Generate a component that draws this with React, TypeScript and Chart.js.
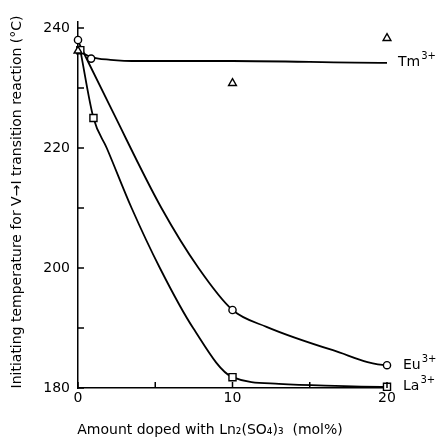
import React, { useEffect, useRef } from 'react';
import { Chart, registerables } from 'chart.js';
Chart.register(...registerables);

// Measured points
const tmX = [0, 10, 20];
const tmValues = [236.2, 230.8, 238.3];
const euX = [0, 0.85, 10, 20];
const euValues = [238.0, 234.9, 193.0, 183.8];
const laX = [0.15, 1, 10, 20];
const laValues = [236.3, 225.0, 181.8, 180.2];

// Hand-drawn curves
const tmCurveX = [0, 0.8, 2.1, 4, 10, 20, 20.4];
const tmCurveY = [236.3, 235.2, 234.7, 234.5, 234.5, 234.2, 234.2];
const euCurveX = [0, 2.2, 5.4, 7.8, 10, 12.2, 16.5, 20, 20.5];
const euCurveY = [237.8, 226.3, 210, 200, 193, 190.2, 186.3, 183.8, 183.8];
const laCurveX = [0.15, 1, 1.86, 3.47, 5.3, 7.45, 10, 13, 16, 20, 20.5];
const laCurveY = [236.3, 225, 220, 210, 200, 190, 181.8, 180.7, 180.4, 180.2, 180.2];

const xLabelValues = [0, 10, 20];
const yLabelValues = [180, 200, 220, 240];

const seriesLabels = [
  { base: 'Tm', sup: '3+', x: 20, y: 234.2, dx: 11 },
  { base: 'Eu', sup: '3+', x: 20, y: 183.8, dx: 16 },
  { base: 'La', sup: '3+', x: 20, y: 180.2, dx: 16 },
];

const yTitle = 'Initiating temperature for V\u2192I transition reaction (\u00B0C)';
const xTitle = 'Amount doped with Ln\u2082(SO\u2084)\u2083  (mol%)';

const zip = (xs: number[], ys: number[]) => xs.map((x, i) => ({ x, y: ys[i] }));

const FONT = '"DejaVu Sans", sans-serif';

export default function App() {
  const ref = useRef<HTMLCanvasElement>(null);
  useEffect(() => {
    if (!ref.current) return;
    const decor = {
      id: 'decor',
      afterDraw(chart: any) {
        const ctx = chart.ctx;
        const xs = chart.scales.x;
        const ys = chart.scales.y;
        const area = chart.chartArea;
        ctx.save();
        ctx.strokeStyle = '#000';
        ctx.lineWidth = 1.5;
        // inward ticks
        ys.ticks.forEach((t: any) => {
          if (t.value % 10 !== 0) return;
          const py = ys.getPixelForValue(t.value);
          ctx.beginPath();
          ctx.moveTo(area.left, py);
          ctx.lineTo(area.left + 6, py);
          ctx.stroke();
        });
        xs.ticks.forEach((t: any) => {
          if (t.value % 5 !== 0) return;
          const px = xs.getPixelForValue(t.value);
          ctx.beginPath();
          ctx.moveTo(px, area.bottom);
          ctx.lineTo(px, area.bottom - 6);
          ctx.stroke();
        });
        // series labels
        ctx.fillStyle = '#000';
        ctx.textBaseline = 'middle';
        ctx.textAlign = 'left';
        seriesLabels.forEach((l) => {
          const px = xs.getPixelForValue(l.x) + l.dx;
          const py = ys.getPixelForValue(l.y);
          ctx.font = `14px ${FONT}`;
          ctx.fillText(l.base, px, py);
          const w = ctx.measureText(l.base).width;
          ctx.font = `10px ${FONT}`;
          ctx.fillText(l.sup, px + w + 1, py - 6);
        });
        // axis titles
        ctx.font = `14px ${FONT}`;
        ctx.textAlign = 'center';
        ctx.fillText(xTitle, 210, 430);
        ctx.save();
        ctx.translate(17, 202);
        ctx.rotate(-Math.PI / 2);
        ctx.fillText(yTitle, 0, 0);
        ctx.restore();
        ctx.restore();
      },
    };
    const marker = (label: string, data: any[], style: any, radius: number) => ({
      label,
      data,
      showLine: false,
      pointStyle: style,
      pointRadius: radius,
      pointBackgroundColor: '#fff',
      pointBorderColor: '#000',
      pointBorderWidth: 1.4,
      clip: false,
    });
    const curve = (label: string, data: any[]) => ({
      label,
      data,
      showLine: true,
      borderColor: '#000',
      borderWidth: 1.8,
      pointRadius: 0,
      cubicInterpolationMode: 'monotone',
      clip: false,
    });
    const chart = new Chart(ref.current, {
      type: 'scatter',
      data: {
        datasets: [
          marker('Tm3+', zip(tmX, tmValues), 'triangle', 4.5),
          marker('Eu3+', zip(euX, euValues), 'circle', 3.6),
          marker('La3+', zip(laX, laValues), 'rect', 5),
          curve('Tm curve', zip(tmCurveX, tmCurveY)),
          curve('Eu curve', zip(euCurveX, euCurveY)),
          curve('La curve', zip(laCurveX, laCurveY)),
        ] as any,
      },
      options: {
        animation: false,
        responsive: false,
        layout: { padding: { left: 0, right: 56, top: 22, bottom: 0 } },
        plugins: { legend: { display: false }, tooltip: { enabled: false } },
        scales: {
          x: {
            type: 'linear',
            min: 0,
            max: 20,
            afterFit: (s: any) => { s.height = 50; },
            ticks: {
              stepSize: 5,
              padding: 2,
              color: '#000',
              font: { family: FONT, size: 14 },
              callback: (v: any) => (xLabelValues.includes(v) ? String(v) : ''),
              maxRotation: 0,
              autoSkip: false,
            },
            grid: { display: false, drawTicks: false },
            border: { display: true, color: '#000', width: 1.5 },
          },
          y: {
            type: 'linear',
            min: 180,
            max: 241,
            afterFit: (s: any) => { s.width = 78; },
            ticks: {
              stepSize: 10,
              includeBounds: false,
              padding: 8,
              color: '#000',
              font: { family: FONT, size: 14 },
              callback: (v: any) => (yLabelValues.includes(v) ? String(v) : ''),
              autoSkip: false,
            },
            grid: { display: false, drawTicks: false },
            border: { display: true, color: '#000', width: 1.5 },
          },
        },
      },
      plugins: [decor],
    });
    return () => chart.destroy();
  }, []);
  return (
    <div style={{ position: 'fixed', left: 0, top: 0, width: 443, height: 438, background: '#fff' }}>
      <canvas ref={ref} width={443} height={438} style={{ display: 'block' }} />
    </div>
  );
}
